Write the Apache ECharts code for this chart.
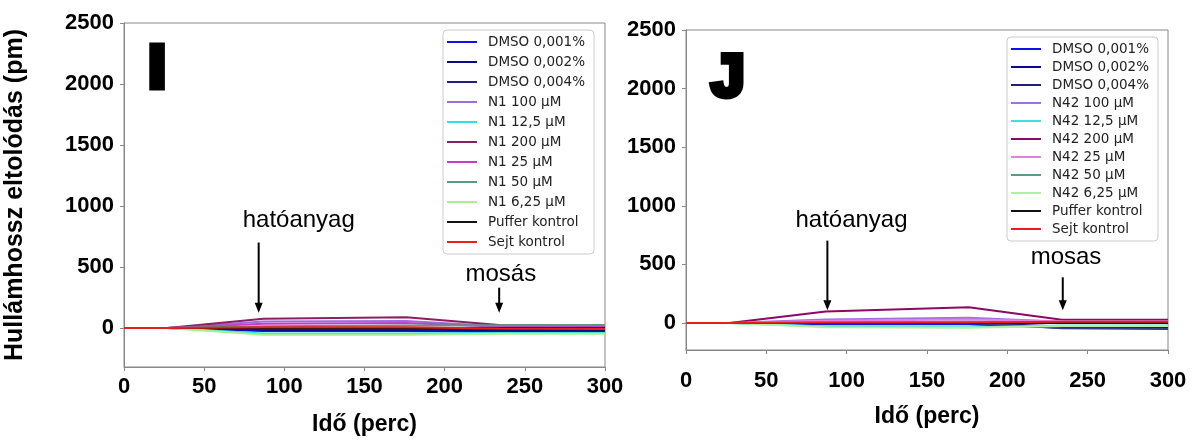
<!DOCTYPE html>
<html><head><meta charset="utf-8">
<script src="https://cdn.jsdelivr.net/npm/echarts@6/dist/echarts.min.js"></script>
<style>html,body{margin:0;padding:0;background:#fff}#c{width:1204px;height:443px}</style>
</head><body><div id="c"></div>
<script>
// ---- data ----
const times = [0, 27, 87, 176, 234, 300];
const xTicks = [0, 50, 100, 150, 200, 250, 300];
const yTicks = [0, 500, 1000, 1500, 2000, 2500];

const labelsI = ['DMSO 0,001%','DMSO 0,002%','DMSO 0,004%','N1 100 µM','N1 12,5 µM','N1 200 µM','N1 25 µM','N1 50 µM','N1 6,25 µM','Puffer kontrol','Sejt kontrol'];
const labelsJ = ['DMSO 0,001%','DMSO 0,002%','DMSO 0,004%','N42 100 µM','N42 12,5 µM','N42 200 µM','N42 25 µM','N42 50 µM','N42 6,25 µM','Puffer kontrol','Sejt kontrol'];
const colorsI = ['#1010ee','#0a0a8a','#20207a','#9a6ee0','#30e0e8','#8b1f62','#c23ec8','#5a9a82','#a8f090','#111111','#e8201a'];
const colorsJ = ['#1818e6','#14148a','#3a3a8c','#a070e0','#40e0e0','#8a0a64','#e67ee6','#5a9a8a','#b0f0a0','#111111','#e8201a'];

// Panel I (N1) values at times
const I_dmso001 = [0, 0, -25, -25, -30, -30];
const I_dmso002 = [0, 0, -15, -12, -20, -20];
const I_dmso004 = [0, 0, -5, -2, -10, -10];
const I_n1_100  = [0, 0, 52, 58, 15, 15];
const I_n1_125  = [0, 0, -45, -45, -42, -42];
const I_n1_200  = [0, 0, 76, 88, 25, 20];
const I_n1_25   = [0, 0, 35, 40, 10, 10];
const I_n1_50   = [0, 0, 15, 20, 22, 25];
const I_n1_625  = [0, 0, -55, -55, -48, -48];
const I_puffer  = [0, 0, 0, 0, 0, 0];
const I_sejt    = [0, 0, 5, 5, -5, -8];

// Panel J (N42) values at times
const J_dmso001 = [0, 0, -10, -10, -40, -45];
const J_dmso002 = [0, 0, 0, 0, -30, -35];
const J_dmso004 = [0, 0, 5, 5, -45, -50];
const J_n42_100 = [0, 0, 30, 45, 10, 10];
const J_n42_125 = [0, 0, -30, -35, -20, -20];
const J_n42_200 = [0, 0, 98, 135, 28, 28];
const J_n42_25  = [0, 0, 20, 30, 15, 15];
const J_n42_50  = [0, 0, 5, 10, 5, 5];
const J_n42_625 = [0, 0, -35, -40, -25, -25];
const J_puffer  = [0, 0, 0, 0, 0, 0];
const J_sejt    = [0, 0, 5, 5, 10, 10];

const valuesI = [I_dmso001,I_dmso002,I_dmso004,I_n1_100,I_n1_125,I_n1_200,I_n1_25,I_n1_50,I_n1_625,I_puffer,I_sejt];
const valuesJ = [J_dmso001,J_dmso002,J_dmso004,J_n42_100,J_n42_125,J_n42_200,J_n42_25,J_n42_50,J_n42_625,J_puffer,J_sejt];

// annotations: [label, arrowX, arrowTopY, arrowTipY, textX, textY]
const annotI = [['hatóanyag', 84, 700, 124, 109, 882], ['mosás', 234, 330, 124, 235, 437]];
const annotJ = [['hatóanyag', 88, 703, 110, 103, 872], ['mosas', 234.5, 390, 110, 236.5, 559]];

// ---- chart ----
const FF = 'Arial, "Liberation Sans", sans-serif';
const chart = echarts.init(document.getElementById('c'));
const tickFont = {fontSize: 22, fontWeight: 'bold', color: '#000', fontFamily: FF, formatter: v => String(v)};
function xAx(g, margin, nameGap){
  return {gridIndex:g, type:'value', min:0, max:300, interval:50,
    axisLine:{show:true,onZero:false,lineStyle:{color:'#888',width:1}},
    axisTick:{show:true,length:4,lineStyle:{color:'#888'}},
    axisLabel:Object.assign({margin:margin}, tickFont),
    splitLine:{show:false},
    name:'Idő (perc)', nameLocation:'middle', nameGap:nameGap,
    nameTextStyle:{fontSize:23,fontWeight:'bold',color:'#000',fontFamily:FF}};
}
function yAx(g, min, withName){
  const o = {gridIndex:g, type:'value', min:min, max:2500,
    axisLine:{show:true,onZero:false,lineStyle:{color:'#888',width:1}},
    axisTick:{show:true,length:4,lineStyle:{color:'#888'},customValues:yTicks},
    axisLabel:Object.assign({margin:10,customValues:yTicks}, tickFont),
    splitLine:{show:false}};
  if (withName){
    o.name='Hullámhossz eltolódás (pm)'; o.nameLocation='middle'; o.nameGap=96;
    o.nameTextStyle={fontSize:25,fontWeight:'bold',color:'#000',fontFamily:FF};
  }
  return o;
}
const series = [];
labelsI.forEach((n,i)=>series.push({name:n,type:'line',xAxisIndex:0,yAxisIndex:0,symbol:'none',silent:true,
  lineStyle:{width:2,color:colorsI[i]},itemStyle:{color:colorsI[i]},data:times.map((t,k)=>[t,valuesI[i][k]])}));
labelsJ.forEach((n,i)=>series.push({name:n,type:'line',xAxisIndex:1,yAxisIndex:1,symbol:'none',silent:true,
  lineStyle:{width:2,color:colorsJ[i]},itemStyle:{color:colorsJ[i]},data:times.map((t,k)=>[t,valuesJ[i][k]])}));

function legend(data, left, top, gap){
  return {data:data, orient:'vertical', left:left, top:top,
    icon:'rect', itemWidth:30, itemHeight:2, itemGap:gap,
    backgroundColor:'#fff', borderColor:'#ccc', borderWidth:1, borderRadius:4,
    padding:[5,9,5,4], selectedMode:false,
    textStyle:{fontSize:13.5, color:'#222', fontFamily:'DejaVu Sans', lineHeight:14, padding:[0,0,0,6]}};
}

chart.setOption({
  animation:false,
  grid:[{left:124, top:23, width:481, height:344, show:true, borderColor:'#888', borderWidth:1},
        {left:686, top:30, width:482, height:320, show:true, borderColor:'#888', borderWidth:1}],
  xAxis:[xAx(0, 9, 46), xAx(1, 20, 55)],
  yAxis:[yAx(0,-320,true), yAx(1,-230,false)],
  legend:[legend(labelsI, 443, 30, 6), legend(labelsJ, 1007, 37, 4)],
  series:series
});

function annotGraphics(ann, gi){
  const out = [];
  ann.forEach(a=>{
    const top = chart.convertToPixel({gridIndex:gi},[a[1],a[2]]);
    const tip = chart.convertToPixel({gridIndex:gi},[a[1],a[3]]);
    const tp = chart.convertToPixel({gridIndex:gi},[a[4],a[5]]);
    out.push({type:'line',shape:{x1:top[0],y1:top[1],x2:tip[0],y2:tip[1]-8},style:{stroke:'#000',lineWidth:2},z:100});
    out.push({type:'polygon',shape:{points:[[tip[0]-4,tip[1]-10],[tip[0]+4,tip[1]-10],[tip[0],tip[1]]]},style:{fill:'#000'},z:100});
    out.push({type:'text',x:tp[0],y:tp[1],style:{text:a[0],font:'24px Arial, "Liberation Sans", sans-serif',fill:'#000',align:'center',verticalAlign:'middle'},z:100});
  });
  return out;
}
const g = annotGraphics(annotI,0).concat(annotGraphics(annotJ,1));
g.push({type:'text',x:157,y:70,style:{text:'I',font:'bold 60px Arial, "Liberation Sans", sans-serif',fill:'#000',stroke:'#000',lineWidth:7,align:'center',verticalAlign:'middle'},z:100});
g.push({type:'text',x:728,y:79,style:{text:'J',font:'bold 60px Arial, "Liberation Sans", sans-serif',fill:'#000',stroke:'#000',lineWidth:6,align:'center',verticalAlign:'middle'},z:100});
chart.setOption({graphic:g});
</script></body></html>
